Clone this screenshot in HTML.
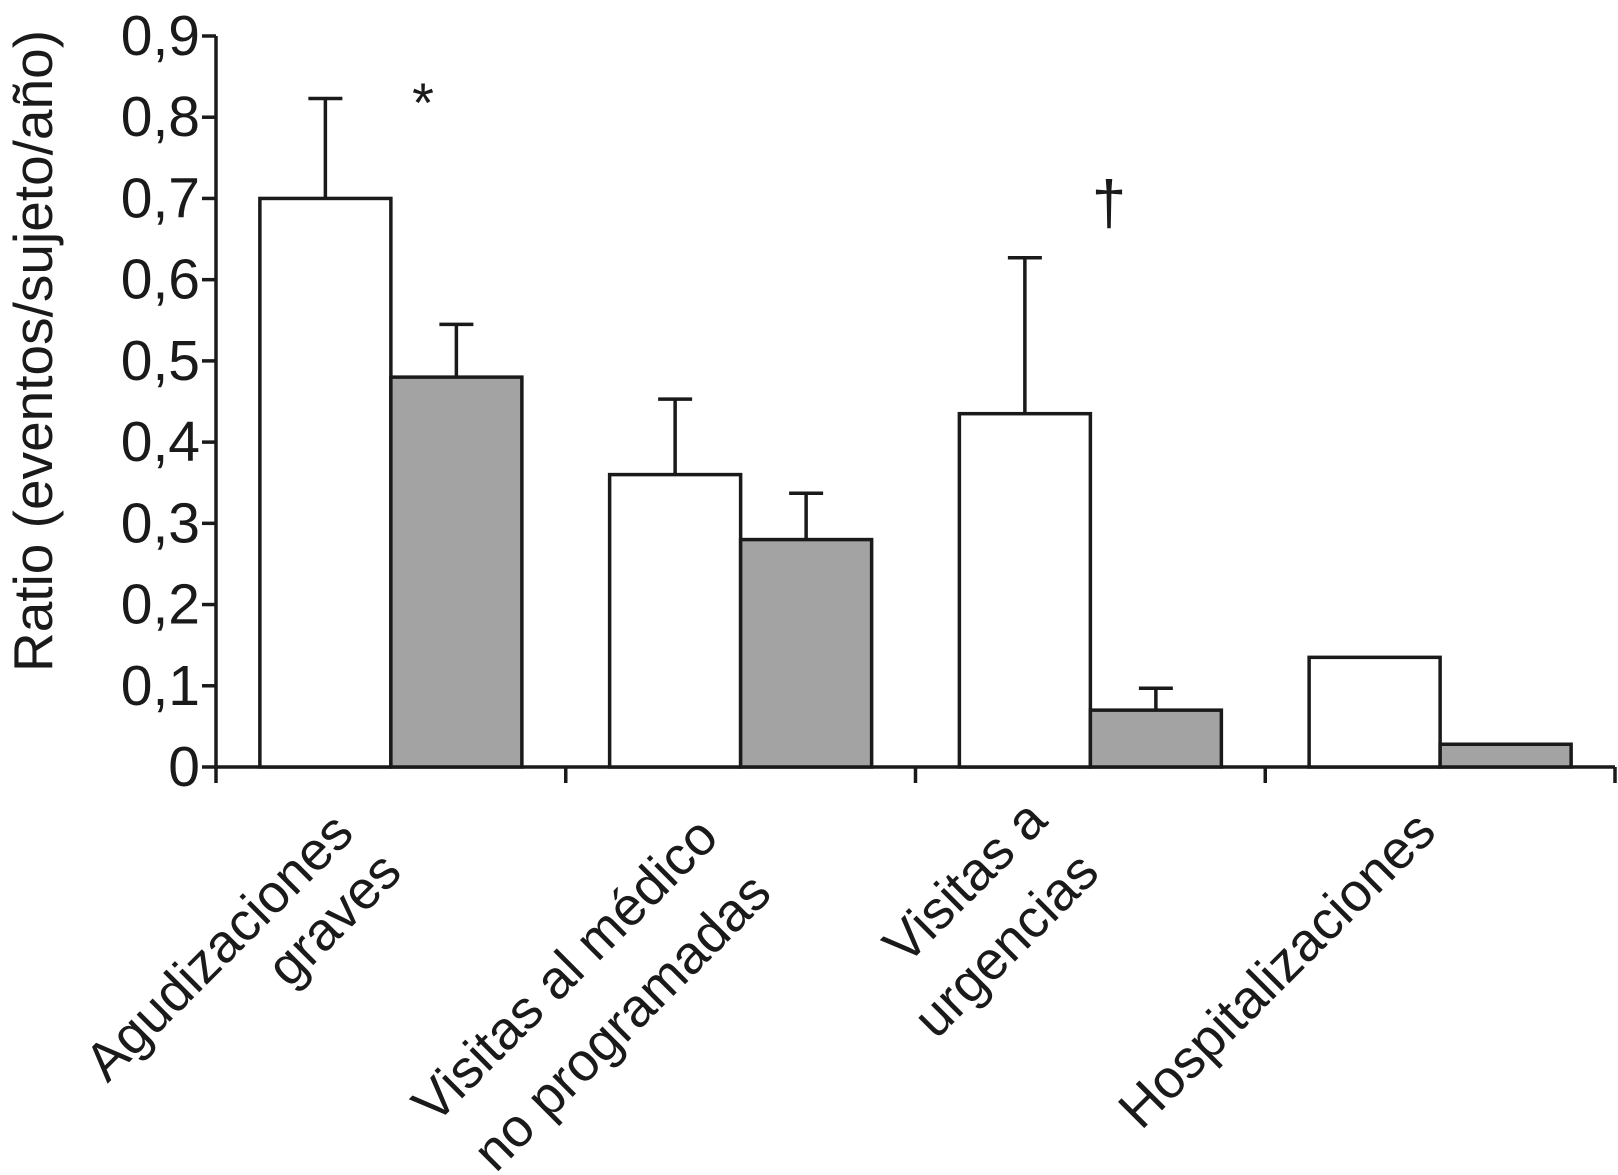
<!DOCTYPE html>
<html><head><meta charset="utf-8"><style>
html,body{margin:0;padding:0;background:#fff;}
svg{display:block;font-family:"Liberation Sans",Arial,sans-serif;}
</style></head><body>
<svg id="chart" width="1618" height="1175" viewBox="0 0 1618 1175" xmlns="http://www.w3.org/2000/svg">
<g id="axes"></g><g id="bars"></g>
<text x="0" y="0" font-size="55" text-anchor="middle" dominant-baseline="central" transform="translate(33,351) rotate(-90)" fill="#1a1a1a">Ratio (eventos/sujeto/año)</text>
<text x="423" y="122" font-size="56" text-anchor="middle" fill="#1a1a1a">*</text>
<text x="1109" y="224" font-size="62" text-anchor="middle" fill="#1a1a1a">†</text>
<g id="xlabels" font-size="54" fill="#1a1a1a">
<text text-anchor="middle" dominant-baseline="central" transform="translate(219,947) rotate(-45)">Agudizaciones</text>
<text text-anchor="middle" dominant-baseline="central" transform="translate(334,919) rotate(-45)">graves</text>
<text text-anchor="middle" dominant-baseline="central" transform="translate(565,970) rotate(-45)">Visitas al médico</text>
<text text-anchor="middle" dominant-baseline="central" transform="translate(622,1022) rotate(-45)">no programadas</text>
<text text-anchor="middle" dominant-baseline="central" transform="translate(965,882) rotate(-45)">Visitas a</text>
<text text-anchor="middle" dominant-baseline="central" transform="translate(1006,945) rotate(-45)">urgencias</text>
<text text-anchor="middle" dominant-baseline="central" transform="translate(1277,970) rotate(-45)">Hospitalizaciones</text>
</g>
</svg>
<script>
const categories = ["Agudizaciones graves","Visitas al médico no programadas","Visitas a urgencias","Hospitalizaciones"];
const seriesWhite = [0.70, 0.36, 0.435, 0.135];
const seriesGray = [0.48, 0.28, 0.07, 0.028];
const errWhite = [0.823, 0.453, 0.627, null];
const errGray = [0.545, 0.337, 0.097, null];
const yTicks = [0,0.1,0.2,0.3,0.4,0.5,0.6,0.7,0.8,0.9];
const yTickLabels = ["0","0,1","0,2","0,3","0,4","0,5","0,6","0,7","0,8","0,9"];

const NS="http://www.w3.org/2000/svg";
const x0=216, x1=1615, yZero=767, yTop=36, yMax=0.9;
const y=v=>yZero-(v/yMax)*(yZero-yTop);
const groupW=(x1-x0)/categories.length;
const barW=131;
const gx=i=>x0+groupW*i+groupW/2;
function el(tag,attrs,parent){const e=document.createElementNS(NS,tag);for(const k in attrs)e.setAttribute(k,attrs[k]);parent.appendChild(e);return e;}
const axes=document.getElementById('axes'), bars=document.getElementById('bars');
const stroke={stroke:"#1a1a1a","stroke-width":3.5,fill:"none"};
let a=el('line',Object.assign({x1:x0,y1:yTop,x2:x0,y2:yZero+1},stroke),axes);


a=el('line',Object.assign({x1:x0,y1:yZero,x2:x1,y2:yZero},stroke),axes);


yTicks.forEach((t,i)=>{
  const l=el('line',Object.assign({x1:x0-14,y1:y(t),x2:x0,y2:y(t)},stroke),axes);
  
  
  const tx=el('text',{x:x0-16,y:y(t),"font-size":57,"text-anchor":"end","dominant-baseline":"central",fill:"#1a1a1a"},axes);
  tx.textContent=yTickLabels[i];
  
  
});
for(let i=0;i<=categories.length;i++){
  const xx=x0+groupW*i;
  const l=el('line',Object.assign({x1:xx,y1:yZero,x2:xx,y2:yZero+16},stroke),axes);
  
  
}
function drawErr(cx,v,e){
  if(e==null)return;
  const l=el('line',Object.assign({x1:cx,y1:y(v),x2:cx,y2:y(e)},stroke),bars);
  
  
  const c=el('line',Object.assign({x1:cx-17,y1:y(e),x2:cx+17,y2:y(e)},stroke),bars);
  
  
}
categories.forEach((c,i)=>{
  const cx=gx(i);
  const r1=el('rect',{x:cx-barW,y:y(seriesWhite[i]),width:barW,height:yZero-y(seriesWhite[i]),fill:"#fff",stroke:"#1a1a1a","stroke-width":3.5},bars);
  
  
  const r2=el('rect',{x:cx,y:y(seriesGray[i]),width:barW,height:yZero-y(seriesGray[i]),fill:"#a3a3a3",stroke:"#1a1a1a","stroke-width":3.5},bars);
  
  
  drawErr(cx-barW/2,seriesWhite[i],errWhite[i]);
  drawErr(cx+barW/2,seriesGray[i],errGray[i]);
});
</script>
</body></html>
